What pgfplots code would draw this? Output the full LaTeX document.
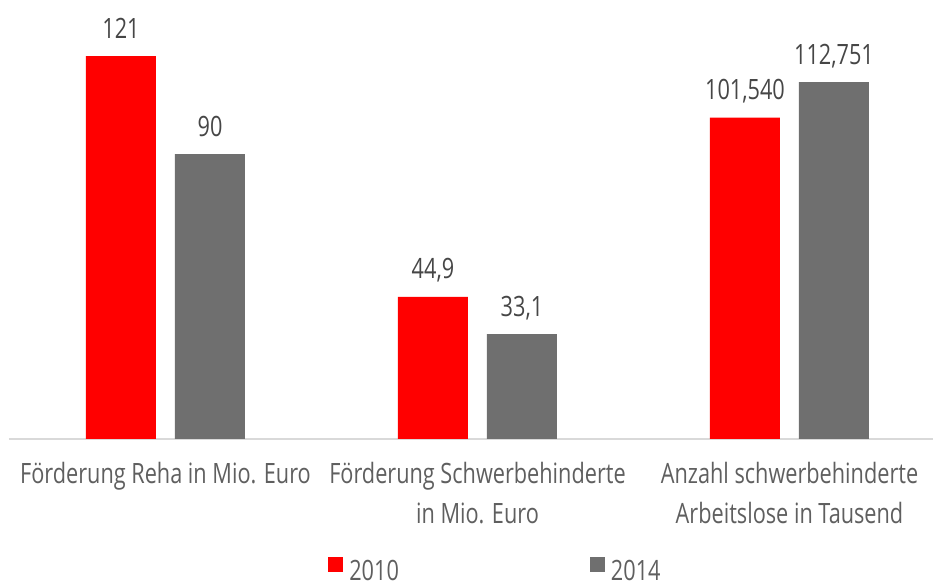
\documentclass[border=0pt]{standalone}
\usepackage{pgfplots}
\pgfplotsset{compat=1.18}
\usepackage{fontspec}
\setmainfont{Open Sans}[FakeStretch=0.775]
\definecolor{barred}{HTML}{FF0000}
\definecolor{bargray}{HTML}{6F6F6F}
\definecolor{axisgray}{HTML}{D9D9D9}
\definecolor{txtgray}{HTML}{5F5F5F}
\definecolor{valgray}{HTML}{464646}
\newcommand{\lbl}{\fontsize{14pt}{20pt}\selectfont}
\pgfplotstableread{
x y label
0 121 121
1 44.9 44,9
2 101.54 101,540
}\dataA
\pgfplotstableread{
x y label
0 90 90
1 33.1 33,1
2 112.751 112,751
}\dataB
\begin{document}
\begin{tikzpicture}
\begin{axis}[
  scale only axis, width=462pt, height=219.5pt,
  xmin=-0.5016, xmax=2.46, ymin=0, ymax=138.7,
  ybar=9.5pt, bar width=35pt,
  axis y line=none, axis x line=bottom,
  x axis line style={draw=axisgray, line width=1pt, -},
  xtick={0,1,2},
  xticklabels={{Förderung Reha in Mio. Euro},{Förderung Schwerbehinderte\\in Mio. Euro},{Anzahl schwerbehinderte\\Arbeitslose in Tausend}},
  major tick length=0pt,
  xticklabel style={font=\lbl, text=txtgray, align=center, anchor=north, inner sep=0pt, yshift=-11.4pt},
  nodes near coords,
  nodes near coords style={font=\lbl, text=valgray, anchor=base, inner sep=0pt, yshift=9pt},
  clip=false,
  legend style={at={(0.527,-0.338)}, anchor=south, draw=none, fill=none, legend columns=2,
    /tikz/every even column/.append style={column sep=94pt}, font=\lbl, text=txtgray, inner sep=0pt,
    nodes={inner sep=1.5pt}},
  legend image code/.code={\fill[#1] (0pt,0pt) rectangle (7.5pt,7.5pt);},
]
\addplot[fill=barred, draw=none, point meta=explicit symbolic] table[x=x,y=y,meta=label]{\dataA};
\addlegendentry{\hspace{1.5pt}2010}
\addplot[fill=bargray, draw=none, point meta=explicit symbolic] table[x=x,y=y,meta=label]{\dataB};
\addlegendentry{\hspace{1.5pt}2014}
\end{axis}
\pgfresetboundingbox
\path[use as bounding box] ([xshift=-4.5pt,yshift=-74.5pt]current axis.south west) rectangle (current axis.north east);
\end{tikzpicture}
\end{document}
